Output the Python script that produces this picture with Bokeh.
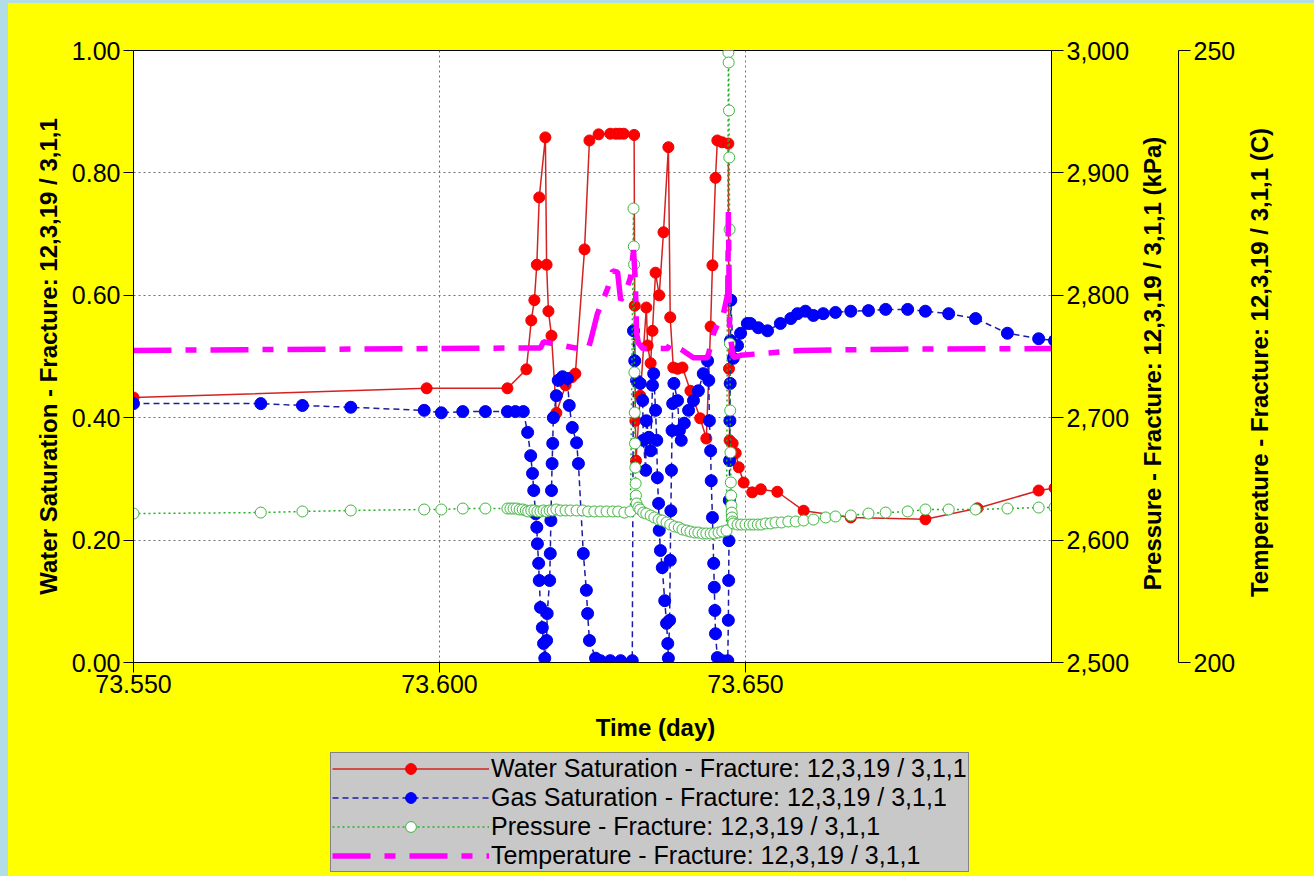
import math
from bokeh.plotting import figure
from bokeh.models import (Range1d, LinearAxis, FixedTicker, NumeralTickFormatter,
                          Legend, LegendItem, Label)
from bokeh.layouts import column, row
from bokeh.embed import file_html
from bokeh.resources import INLINE

FONT = "Liberation Sans"
YELLOW = "#ffff00"
EDGE = "#b3dde6"

# ---------------- data ----------------
x_ticks = [73.55, 73.60, 73.65]
sat_ticks = [0.0, 0.2, 0.4, 0.6, 0.8, 1.0]
pres_ticks = [2500, 2600, 2700, 2800, 2900, 3000]
temp_ticks = [200, 250]

water_t = [73.5500, 73.5979, 73.6111, 73.6142, 73.6150, 73.6155, 73.6159, 73.6163, 73.6173, 73.6175,
           73.6178, 73.6183, 73.6191, 73.6206, 73.6216, 73.6222, 73.6237, 73.6245, 73.6260, 73.6279,
           73.6288, 73.6294, 73.6301, 73.6318, 73.6319, 73.6320, 73.6321, 73.6328, 73.6338, 73.6340,
           73.6345, 73.6348, 73.6353, 73.6359, 73.6366, 73.6374, 73.6377, 73.6382, 73.6389, 73.6397,
           73.6410, 73.6426, 73.6436, 73.6443, 73.6446, 73.6451, 73.6454, 73.6462, 73.6472, 73.6473,
           73.6474, 73.6479, 73.6484, 73.6489, 73.6497, 73.6511, 73.6525, 73.6552, 73.6595, 73.6672,
           73.6794, 73.6879, 73.6979, 73.7005]
water_sat = [0.433, 0.448, 0.448, 0.479, 0.559, 0.592, 0.650, 0.760, 0.858, 0.650,
             0.574, 0.534, 0.408, 0.453, 0.466, 0.472, 0.675, 0.853, 0.863, 0.864,
             0.864, 0.864, 0.864, 0.862, 0.583, 0.395, 0.330, 0.436, 0.580, 0.518,
             0.489, 0.542, 0.637, 0.600, 0.703, 0.842, 0.564, 0.482, 0.480, 0.482,
             0.444, 0.399, 0.366, 0.549, 0.649, 0.792, 0.853, 0.850, 0.848, 0.480,
             0.363, 0.358, 0.342, 0.319, 0.294, 0.278, 0.283, 0.279, 0.248, 0.237,
             0.234, 0.252, 0.281, 0.285]

gas_t = [73.5500, 73.5708, 73.5776, 73.5855, 73.5975, 73.6003, 73.6038, 73.6075, 73.6111, 73.6124,
         73.6137, 73.6144, 73.6149, 73.6152, 73.6154, 73.6157, 73.6159, 73.6160, 73.6162, 73.6163,
         73.6165, 73.6168, 73.6170, 73.6172, 73.6175, 73.6176, 73.6180, 73.6181, 73.6182, 73.6183,
         73.6184, 73.6185, 73.6186, 73.6191, 73.6194, 73.6201, 73.6209, 73.6212, 73.6217, 73.6224,
         73.6227, 73.6235, 73.6240, 73.6242, 73.6245, 73.6255, 73.6263, 73.6279, 73.6296, 73.6315,
         73.6317, 73.6319, 73.6322, 73.6328, 73.6332, 73.6333, 73.6337, 73.6338, 73.6342, 73.6345,
         73.6348, 73.6350, 73.6353, 73.6355, 73.6356, 73.6358, 73.6359, 73.6361, 73.6364, 73.6368,
         73.6371, 73.6373, 73.6374, 73.6376, 73.6377, 73.6378, 73.6379, 73.6380, 73.6381, 73.6383,
         73.6389, 73.6392, 73.6395, 73.6400, 73.6407, 73.6415, 73.6423, 73.6431, 73.6438, 73.6440,
         73.6441, 73.6443, 73.6444, 73.6446, 73.6448, 73.6449, 73.6450, 73.6451, 73.6454, 73.6462,
         73.6471, 73.64720, 73.64725, 73.64730, 73.64735, 73.64740, 73.64745, 73.64750, 73.64755, 73.64760,
         73.6480, 73.6487, 73.6492, 73.6503, 73.6508, 73.6521, 73.6536, 73.6557, 73.6574, 73.6585,
         73.6598, 73.6611, 73.6627, 73.6647, 73.6672, 73.6701, 73.6729, 73.6765, 73.6794, 73.6832,
         73.6876, 73.6928, 73.6979, 73.7005]
gas_sat = [0.423, 0.423, 0.420, 0.417, 0.412, 0.408, 0.410, 0.410, 0.410, 0.410,
           0.410, 0.376, 0.338, 0.309, 0.281, 0.243, 0.221, 0.194, 0.162, 0.134,
           0.090, 0.057, 0.031, 0.007, 0.036, 0.080, 0.134, 0.178, 0.232, 0.281,
           0.325, 0.358, 0.400, 0.436, 0.461, 0.467, 0.464, 0.420, 0.384, 0.359,
           0.325, 0.178, 0.118, 0.080, 0.036, 0.007, 0.003, 0.003, 0.003, 0.003,
           0.542, 0.493, 0.461, 0.456, 0.428, 0.363, 0.314, 0.395, 0.368, 0.346,
           0.453, 0.472, 0.412, 0.363, 0.302, 0.260, 0.216, 0.183, 0.155, 0.101,
           0.064, 0.031, 0.007, 0.069, 0.167, 0.248, 0.314, 0.379, 0.423, 0.456,
           0.428, 0.379, 0.363, 0.391, 0.412, 0.428, 0.444, 0.472, 0.493, 0.461,
           0.395, 0.346, 0.297, 0.237, 0.162, 0.123, 0.085, 0.047, 0.008, 0.003,
           0.003, 0.069, 0.134, 0.199, 0.265, 0.330, 0.395, 0.456, 0.526, 0.592,
           0.497, 0.518, 0.538, 0.554, 0.554, 0.547, 0.542, 0.554, 0.562, 0.570,
           0.574, 0.567, 0.570, 0.572, 0.574, 0.575, 0.577, 0.577, 0.574, 0.570,
           0.562, 0.538, 0.529, 0.526]

pres_t = [73.5500, 73.5708, 73.5776, 73.5855, 73.5975, 73.6003, 73.6038, 73.6075, 73.6111, 73.6116,
          73.6121, 73.6126, 73.6131, 73.6136, 73.6141, 73.6145, 73.6150, 73.6155, 73.6160, 73.6165,
          73.6170, 73.6175, 73.6180, 73.6185, 73.6191, 73.6198, 73.6206, 73.6214, 73.6224, 73.6234,
          73.6243, 73.6253, 73.6263, 73.6273, 73.6283, 73.6292, 73.6302, 73.6312, 73.63170, 73.63175,
          73.63180, 73.63185, 73.63190, 73.63195, 73.63200, 73.63205, 73.6321, 73.6322, 73.6325, 73.6328,
          73.6333, 73.6338, 73.6345, 73.6351, 73.6358, 73.6364, 73.6371, 73.6377, 73.6384, 73.6391,
          73.6397, 73.6404, 73.6410, 73.6417, 73.6423, 73.6430, 73.6436, 73.6443, 73.6449, 73.6456,
          73.6462, 73.6469, 73.64720, 73.64725, 73.64730, 73.64735, 73.64740, 73.64745, 73.64750, 73.64755,
          73.64760, 73.64765, 73.64770, 73.64775, 73.6478, 73.6479, 73.6480, 73.6487, 73.6493, 73.6500,
          73.6507, 73.6513, 73.6520, 73.6526, 73.6533, 73.6541, 73.6549, 73.6559, 73.6570, 73.6582,
          73.6595, 73.6611, 73.6631, 73.6647, 73.6672, 73.6701, 73.6729, 73.6765, 73.6794, 73.6832,
          73.6876, 73.6928, 73.6979, 73.7005]
pres_kpa = [2621.7, 2622.5, 2623.4, 2624.2, 2625.0, 2625.0, 2625.8, 2625.8, 2625.8, 2625.8,
            2625.8, 2625.8, 2625.0, 2625.0, 2624.2, 2623.4, 2624.2, 2624.2, 2623.4, 2623.4,
            2624.2, 2623.4, 2624.2, 2624.2, 2625.0, 2624.2, 2624.2, 2624.2, 2624.2, 2624.2,
            2623.4, 2623.4, 2623.4, 2623.4, 2623.4, 2623.4, 2622.5, 2623.4, 2870.9, 2839.9,
            2825.2, 2737.0, 2704.2, 2678.9, 2659.3, 2646.2, 2636.4, 2629.9, 2626.6, 2625.0,
            2622.5, 2621.7, 2620.1, 2618.5, 2616.8, 2616.0, 2614.4, 2612.7, 2611.1, 2610.3,
            2608.7, 2607.8, 2607.0, 2606.2, 2606.2, 2605.4, 2605.4, 2605.4, 2605.4, 2606.2,
            2607.0, 2607.8, 2998.4, 2990.2, 2951.0, 2912.6, 2853.8, 2760.6, 2705.9, 2671.6,
            2647.1, 2636.4, 2628.3, 2622.5, 2618.5, 2615.2, 2613.6, 2612.7, 2612.7, 2612.7,
            2612.7, 2612.7, 2612.7, 2612.7, 2613.6, 2613.6, 2614.4, 2614.4, 2615.2, 2615.2,
            2616.0, 2616.8, 2618.5, 2619.3, 2620.1, 2621.7, 2622.5, 2623.4, 2625.0, 2625.0,
            2625.0, 2625.8, 2626.6, 2626.8]

temp_t = [73.5500, 73.6157, 73.6165, 73.6170, 73.6222, 73.6243, 73.6247, 73.6258, 73.6275, 73.6283,
          73.6291, 73.6296, 73.6304, 73.6312, 73.6317, 73.6320, 73.6322, 73.6325, 73.6332, 73.6373,
          73.6377, 73.6395, 73.6415, 73.6438, 73.6448, 73.6459, 73.6464, 73.6471, 73.6472, 73.6474,
          73.6480, 73.6492, 73.6590, 73.6753, 73.7005]
temp_c = [225.5, 225.7, 225.7, 226.2, 225.7, 225.65, 226.3, 228.5, 230.6, 232.0,
          231.9, 229.6, 230.2, 231.45, 233.7, 231.2, 226.9, 226.1, 225.65, 225.65,
          226.06, 225.57, 224.9, 224.9, 226.9, 228.2, 228.5, 230.15, 236.8, 227.1,
          224.9, 225.1, 225.5, 225.6, 225.65]

labels = ["Water Saturation - Fracture: 12,3,19 / 3,1,1",
          "Gas Saturation - Fracture: 12,3,19 / 3,1,1",
          "Pressure - Fracture: 12,3,19 / 3,1,1",
          "Temperature - Fracture: 12,3,19 / 3,1,1"]
x_title = "Time (day)"
y_title = "Water Saturation - Fracture: 12,3,19 / 3,1,1"
p_title = "Pressure - Fracture: 12,3,19 / 3,1,1 (kPa)"
t_title = "Temperature - Fracture: 12,3,19 / 3,1,1 (C)"

# series styles (shared by plot and legend swatches)
W_LINE = dict(line_color="#d42222", line_width=1.5)
W_PTS = dict(marker="circle", size=11, fill_color="#ff0000", line_color="#ee0000")
G_LINE = dict(line_color="#1c1ca0", line_width=1.5, line_dash="6 4")
G_PTS = dict(marker="circle", size=12, fill_color="#0000ff", line_color="#0000e0")
P_LINE = dict(line_color="#22b022", line_width=1.5, line_dash="2 3")
P_PTS = dict(marker="circle", size=11, fill_color="white", line_color="#3cb43c", line_width=1)
T_LINE = dict(line_color="#ff00ff", line_width=5.5, line_dash="38 14 11 14")

H = 702
TOP = 47
BOTTOM = 43


def style_axis(ax, tick_out=10):
    ax.axis_line_color = "black"
    ax.major_tick_line_color = "black"
    ax.major_tick_out = tick_out
    ax.major_tick_in = 0
    ax.minor_tick_line_color = None
    ax.major_label_text_font = FONT
    ax.major_label_text_font_size = "25px"
    ax.major_label_text_color = "black"
    ax.axis_label_text_font = FONT
    ax.axis_label_text_font_size = "24px"
    ax.axis_label_text_font_style = "bold"
    ax.axis_label_text_color = "black"


# ---------------- main figure ----------------
p = figure(width=1124, height=H, x_range=Range1d(73.55, 73.70), y_range=Range1d(0, 1),
           output_backend="svg", toolbar_location=None,
           background_fill_color="white", border_fill_color=YELLOW,
           min_border_left=125, min_border_right=80, min_border_top=TOP, min_border_bottom=BOTTOM,
           outline_line_color="black", outline_line_width=1)
p.extra_y_ranges = {"p": Range1d(2500, 3000), "t": Range1d(200, 250)}

xa = p.xaxis[0]
xa.ticker = FixedTicker(ticks=x_ticks)
xa.formatter = NumeralTickFormatter(format="0.000")
style_axis(xa)
xa.major_label_standoff = 2

ya = p.yaxis[0]
ya.ticker = FixedTicker(ticks=sat_ticks)
ya.formatter = NumeralTickFormatter(format="0.00")
ya.axis_label = y_title
style_axis(ya)
ya.major_label_standoff = 3
ya.axis_label_standoff = 7

pa = LinearAxis(y_range_name="p", ticker=FixedTicker(ticks=pres_ticks),
                formatter=NumeralTickFormatter(format="0,0"))
style_axis(pa, 12)
pa.major_label_standoff = 3
p.add_layout(pa, "right")

for g in (p.xgrid[0], p.ygrid[0]):
    g.grid_line_color = "#707070"
    g.grid_line_dash = "2 3"
    g.grid_line_width = 1

p.line(water_t, water_sat, **W_LINE)
p.scatter(water_t, water_sat, **W_PTS)
p.line(gas_t, gas_sat, **G_LINE)
p.scatter(gas_t, gas_sat, **G_PTS)
p.line(pres_t, pres_kpa, y_range_name="p", **P_LINE)
p.scatter(pres_t, pres_kpa, y_range_name="p", **P_PTS)
p.line(temp_t, temp_c, y_range_name="t", **T_LINE)

# ---------------- pressure title + temperature axis ----------------
q = figure(width=106, height=H, x_range=Range1d(0, 1), y_range=Range1d(200, 250),
           output_backend="svg", toolbar_location=None, x_axis_location=None,
           y_axis_location="right",
           background_fill_color=YELLOW, border_fill_color=YELLOW,
           min_border_left=0, min_border_right=60, min_border_top=TOP, min_border_bottom=BOTTOM,
           outline_line_color=None)
q.xgrid.visible = False
q.ygrid.visible = False
qa = q.yaxis[0]
qa.ticker = FixedTicker(ticks=temp_ticks)
qa.formatter = NumeralTickFormatter(format="0")
style_axis(qa, 12)
qa.major_label_standoff = 3
q.add_layout(Label(x=20, y=299, x_units="screen", y_units="screen", text=p_title,
                   angle=math.pi / 2, text_align="center", text_baseline="middle",
                   text_font=FONT, text_font_size="24px", text_font_style="bold",
                   text_color="black"))

# ---------------- temperature title ----------------
r = figure(width=76, height=H, x_range=Range1d(0, 1), y_range=Range1d(0, 1),
           output_backend="svg", toolbar_location=None, x_axis_location=None,
           y_axis_location=None,
           background_fill_color=YELLOW, border_fill_color=YELLOW,
           min_border_left=0, min_border_right=0, min_border_top=TOP, min_border_bottom=BOTTOM,
           outline_line_color=None)
r.xgrid.visible = False
r.ygrid.visible = False
r.add_layout(Label(x=21, y=300, x_units="screen", y_units="screen", text=t_title,
                   angle=math.pi / 2, text_align="center", text_baseline="middle",
                   text_font=FONT, text_font_size="24px", text_font_style="bold",
                   text_color="black"))

# ---------------- x title + legend strip ----------------
# swatch renderers reuse the series data, which lies outside this strip's ranges
lf = figure(width=1306, height=171, x_range=Range1d(0, 1), y_range=Range1d(0, 1),
            output_backend="svg", toolbar_location=None, x_axis_location=None,
            y_axis_location=None,
            background_fill_color=YELLOW, border_fill_color=YELLOW,
            min_border_left=0, min_border_right=0, min_border_top=0, min_border_bottom=0,
            outline_line_color=None)
lf.xgrid.visible = False
lf.ygrid.visible = False
lf.add_layout(Label(x=647, y=149, x_units="screen", y_units="screen", text=x_title,
                    text_align="center", text_baseline="middle",
                    text_font=FONT, text_font_size="24px", text_font_style="bold",
                    text_color="black"))
sw = [lf.line(water_t, water_sat, **W_LINE), lf.scatter(water_t, water_sat, **W_PTS),
      lf.line(gas_t, gas_sat, **G_LINE), lf.scatter(gas_t, gas_sat, **G_PTS),
      lf.line(pres_t, pres_kpa, **P_LINE), lf.scatter(pres_t, pres_kpa, **P_PTS),
      lf.line(temp_t, temp_c, **T_LINE)]
legend = Legend(items=[LegendItem(label=labels[0], renderers=[sw[0], sw[1]]),
                       LegendItem(label=labels[1], renderers=[sw[2], sw[3]]),
                       LegendItem(label=labels[2], renderers=[sw[4], sw[5]]),
                       LegendItem(label=labels[3], renderers=[sw[6]])],
                location=(322, 4), orientation="vertical",
                background_fill_color="#c8c8c8", background_fill_alpha=1,
                border_line_color="#404040", border_line_width=1,
                label_text_font=FONT, label_text_font_size="25px", label_text_color="black",
                glyph_width=157, glyph_height=27, label_height=27, label_standoff=2,
                padding=1, spacing=0, margin=0)
lf.add_layout(legend)

inner = column(row(p, q, r, spacing=0), lf, spacing=0,
               styles={"background-color": YELLOW})
inner.margin = (3, 0, 0, 8)
page = column(inner, styles={"background-color": EDGE})
open("out.html", "w").write(file_html(page, INLINE))
